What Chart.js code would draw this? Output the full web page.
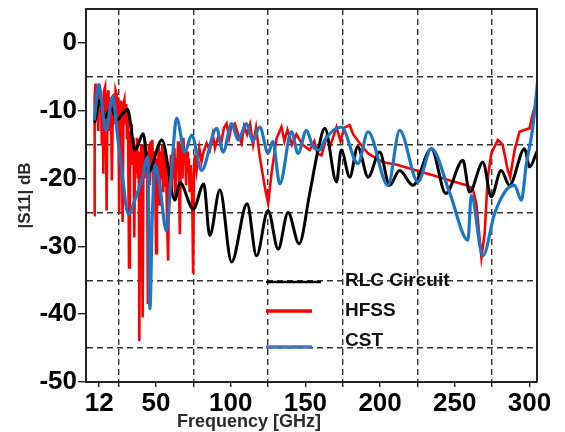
<!DOCTYPE html>
<html>
<head>
<meta charset="utf-8">
<script src="https://cdn.jsdelivr.net/npm/chart.js@4.4.0/dist/chart.umd.min.js"></script>
<style>
  html, body { margin: 0; padding: 0; background: #fff; }
</style>
</head>
<body>
<canvas id="myChart" width="565" height="432"></canvas>
<script>
// ---------------------------------------------------------------
// Data (frequency in GHz, |S11| in dB)
const rlcFreq = [9, 12.5, 16, 20, 24, 27.5, 31, 36, 41.5, 45, 54, 62.7, 66, 75, 82, 86, 92.8, 100.6, 111, 117.3,
  125, 131.8, 138.4, 145.8, 152.9, 158.5, 163, 170.8, 174, 179.7, 185, 192, 199.7, 206.4, 213, 222, 234.3, 244,
  255.4, 259.9, 268.8, 274.4, 281, 286.6, 296.7, 300, 305];
const rlcDb = [-11.8, -8.5, -11, -9.6, -11.4, -10.5, -9.8, -15.8, -13.4, -19, -14.3, -23.2, -20.6, -24.5, -20.8,
  -28.4, -21.7, -32.3, -23.7, -31.4, -24.7, -30.4, -25, -29.6, -22.2, -15.8, -12.6, -20.5, -15.8, -19.8, -15.3,
  -19.8, -16.1, -21, -18.8, -21, -15.6, -22.2, -17.3, -22, -17.6, -22.7, -18.8, -21, -15.6, -18.3, -16];

const hfssFreq = [8.6, 9, 9.6, 10.2, 10.8, 11.4, 12, 12.6, 13.2, 13.8, 14.4, 14.8, 15.4, 16, 16.6, 17, 17.6, 18.2,
  18.8, 19.4, 20, 20.5, 21.2, 21.8, 22.4, 23, 23.6, 24.2, 24.8, 25.4, 26, 26.6, 27.2, 27.7, 28.3, 28.9, 29.5, 30.1,
  30.7, 31.3, 32, 32.6, 33.2, 33.8, 34.4, 35, 35.5, 36.1, 36.7, 37.3, 37.9, 38.5, 38.9, 39.4, 40, 40.5, 41.1, 41.7,
  42.3, 42.9, 43.5, 44.1, 44.6, 45.2, 45.8, 46.4, 47, 47.6, 48.2, 48.8, 49.4, 50.1, 50.7, 51.3, 51.9, 52.5, 53.1,
  53.7, 54.3, 54.9, 55.5, 56.1, 56.7, 57.5, 58.2, 58.8, 59.4, 60, 60.6, 61.2, 61.8, 62.4, 63, 63.6, 64.2, 64.8,
  65.4, 66, 66.6, 67.2, 67.8, 68.4, 69, 69.6, 70.2, 70.8, 71.4, 72, 72.6, 73.2, 73.8, 74.4, 74.9, 75.5, 76.2, 77.2,
  79, 80.5, 81.6, 83.9, 86.1, 88, 89.5, 91.6, 93.5, 95.5, 97.3, 99, 100.5, 102.8, 105, 107.3, 109, 111, 113, 115,
  117, 119.5, 122.9, 125.1, 127.3, 130.7, 134, 136, 138, 141, 144, 148, 152.9, 156, 158, 160.8, 164, 167, 170.8,
  173.5, 176, 179.7, 182, 186.4, 192, 201.9, 212, 224.3, 235.4, 246.7, 257.8, 262, 264.4, 267.8, 270, 272, 274.4,
  278.8, 282, 285.5, 287, 290, 293.3, 297, 300, 302.2, 305.5];
const hfssDb = [-25.4, -8, -6, -11, -6.2, -13, -6, -9, -7, -15, -8, -19.3, -7, -6.5, -12, -24.7, -8, -7, -13, -8,
  -10, -20.3, -9, -7.5, -12, -7, -7.5, -11, -8, -25.2, -10, -8.5, -14, -26.4, -9, -8.4, -12, -9, -14, -10, -33.1,
  -13, -16, -12, -18, -14, -28.7, -15, -19, -14, -20, -16, -44, -17, -15, -22, -40.5, -15, -20, -14.5, -18, -16,
  -38.5, -15, -21, -14.5, -19, -14.3, -22, -16, -19, -31, -17, -20, -15, -24, -16, -20, -15, -22, -16, -21, -17,
  -27, -32.1, -18, -21, -16.5, -22, -17, -20, -15.5, -23, -17, -19, -14.5, -20, -28.2, -17, -15, -20, -14, -18,
  -16, -21, -16, -19, -17, -22, -18, -20, -25, -34, -18, -16.5, -18.8,
  -15.5, -17.5, -16.3, -14.8, -15.8, -13.5, -15.5, -13.9, -15, -12.5, -11.9, -14, -12.3, -11.9, -13.5, -14.8,
  -12.3, -13.5, -12, -15, -12.5, -16.8, -21.3, -23.7, -19.3, -14.1, -12.4, -14.5, -12.8, -15, -13.5, -15, -15.8,
  -14.5, -16.3, -16.6, -14, -15, -12.4, -14.5, -12.5, -12.1, -13.5, -14.8, -16.3, -17.6, -18, -18.8, -19.5, -20.3,
  -21, -21.5, -23.7, -31.6, -28, -20, -16.3, -14.3, -15, -18.8, -19.8, -15.8, -13.1, -12.8, -12.6, -10.4, -8.2];

const cstFreq = [8.8, 11.7, 16.6, 21, 24.4, 27, 31.5, 36.6, 41, 44.5, 46, 47.5, 49.5, 52.5, 57, 60.7, 63.8, 69.4,
  73.9, 80.5, 90.6, 95, 100.6, 105, 110.6, 114.8, 119.5, 125.1, 128.2, 132.9, 140.7, 145.1, 150.7, 155.1, 159.6,
  163, 174.1, 185.2, 191.9, 205.3, 213.1, 225.3, 234.3, 246.7, 258.8, 261, 268.8, 276.6, 284.4, 290, 294.5, 297.8,
  302.2, 305.5];
const cstDb = [-11.4, -6.2, -12.9, -7.9, -13.9, -18.5, -25.2, -22.7, -19.8, -16.8, -39.2, -26, -18, -21, -27.7, -18,
  -11.1, -16.1, -13.6, -18.8, -12.6, -16.1, -11.9, -14.3, -11.9, -14.5, -12.4, -16.3, -14.5, -20.8, -13.1, -16.3,
  -12.9, -15.3, -15.8, -14.3, -12.4, -17.8, -13.1, -21, -12.9, -20.5, -15.6, -22.2, -29.1, -22.5, -31.4, -25.2,
  -21.7, -21, -23.2, -18, -12.4, -5.5];

const xTickValues = [12, 25, 50, 75, 100, 125, 150, 175, 200, 225, 250, 275, 300];
const xTickLabels = ['12', '', '50', '', '100', '', '150', '', '200', '', '250', '', '300'];
const yTickValues = [-50, -45, -40, -35, -30, -25, -20, -15, -10, -5, 0];

const seriesNames = ['RLC Circuit', 'HFSS', 'CST'];
const seriesColors = ['#000000', '#ff0000', '#1b76c6'];
// ---------------------------------------------------------------

const toPoints = (xs, ys) => xs.map((x, i) => ({ x: x, y: ys[i] }));
const gridDash = '#333333';
const font = 'Liberation Sans, Arial, sans-serif';

// frame, legend inside the plot and the x title
const extras = {
  id: 'extras',
  afterDatasetsDraw(chart) {
    const ctx = chart.ctx, a = chart.chartArea;
    ctx.save();
    ctx.strokeStyle = '#222';
    ctx.lineWidth = 2;
    ctx.beginPath();
    ctx.moveTo(a.left, a.top);
    ctx.lineTo(a.right, a.top);
    ctx.lineTo(a.right, a.bottom);
    ctx.stroke();

    // legend
    const rows = [
      { y: 282, x2: 321, ty: 281, color: seriesColors[0] },
      { y: 311, x2: 312, ty: 311, color: seriesColors[1] },
      { y: 347, x2: 312, ty: 341, color: '#4472c4' }
    ];
    ctx.font = 'bold 19px ' + font;
    ctx.textBaseline = 'middle';
    ctx.textAlign = 'left';
    rows.forEach((r, i) => {
      ctx.strokeStyle = r.color;
      ctx.lineWidth = i == 0 ? 2.5 : 3.5;
      ctx.beginPath();
      ctx.moveTo(266, r.y);
      ctx.lineTo(r.x2, r.y);
      ctx.stroke();
      ctx.fillStyle = '#111';
      ctx.fillText(seriesNames[i], 345, r.ty);
    });

    // x axis title (sits left of centre in the original)
    ctx.font = 'bold 18px ' + font;
    ctx.fillStyle = '#2a2a2a';
    ctx.textAlign = 'center';
    ctx.fillText('Frequency [GHz]', 249, 422);
    ctx.restore();
  }
};

const ctx = document.getElementById('myChart').getContext('2d');
const chart = new Chart(ctx, {
  type: 'line',
  data: {
    datasets: [
      { label: seriesNames[0], data: toPoints(rlcFreq, rlcDb), borderColor: seriesColors[0], borderWidth: 3,
        cubicInterpolationMode: 'monotone', order: 1 },
      { label: seriesNames[1], data: toPoints(hfssFreq, hfssDb), borderColor: seriesColors[1], borderWidth: 2.6,
        tension: 0, order: 2 },
      { label: seriesNames[2], data: toPoints(cstFreq, cstDb), borderColor: seriesColors[2], borderWidth: 3.2,
        cubicInterpolationMode: 'monotone', order: 0 }
    ]
  },
  options: {
    responsive: false,
    animation: false,
    layout: { padding: { top: 9, right: 28, left: 0, bottom: 0 } },
    elements: { point: { radius: 0 } },
    plugins: { legend: { display: false }, tooltip: { enabled: false } },
    scales: {
      x: {
        type: 'linear',
        min: 3.2,
        max: 305,
        afterBuildTicks: s => { s.ticks = xTickValues.map(v => ({ value: v })); },
        afterFit: s => { s.height = 50; s.paddingLeft = 0; s.paddingRight = 0; },
        border: { color: '#222', width: 2, dash: [6, 4] },
        grid: {
          color: c => (c.tick && c.tick.value % 50 == 25) ? gridDash : 'rgba(0,0,0,0)',
          lineWidth: 1.4,
          tickColor: '#222',
          tickBorderDash: [],
          tickLength: 5
        },
        ticks: {
          autoSkip: false,
          maxRotation: 0,
          padding: 1,
          color: '#000',
          font: { family: font, size: 26, weight: 'bold' },
          callback: (v, i) => xTickLabels[i]
        }
      },
      y: {
        min: -50,
        max: 5,
        afterBuildTicks: s => { s.ticks = yTickValues.map(v => ({ value: v })); },
        afterFit: s => { s.width = 86; s.paddingTop = 0; s.paddingBottom = 0; },
        border: { color: '#222', width: 2, dash: [6, 4] },
        grid: {
          color: c => (c.tick && Math.abs(c.tick.value % 10) == 5) ? gridDash : 'rgba(0,0,0,0)',
          lineWidth: 1.4,
          tickColor: c => (c.tick && c.tick.value % 10 == 0) ? '#222' : 'rgba(0,0,0,0)',
          tickBorderDash: [],
          tickLength: 8
        },
        ticks: {
          padding: 1,
          color: '#000',
          font: { family: font, size: 26, weight: 'bold' },
          callback: v => (v % 10 == 0) ? String(v) : ''
        },
        title: {
          display: true,
          text: '|S11| dB',
          color: '#2a2a2a',
          font: { family: font, size: 17, weight: 'bold' },
          padding: { top: 15, bottom: 0 }
        }
      }
    }
  },
  plugins: [extras]
});
</script>
</body>
</html>
